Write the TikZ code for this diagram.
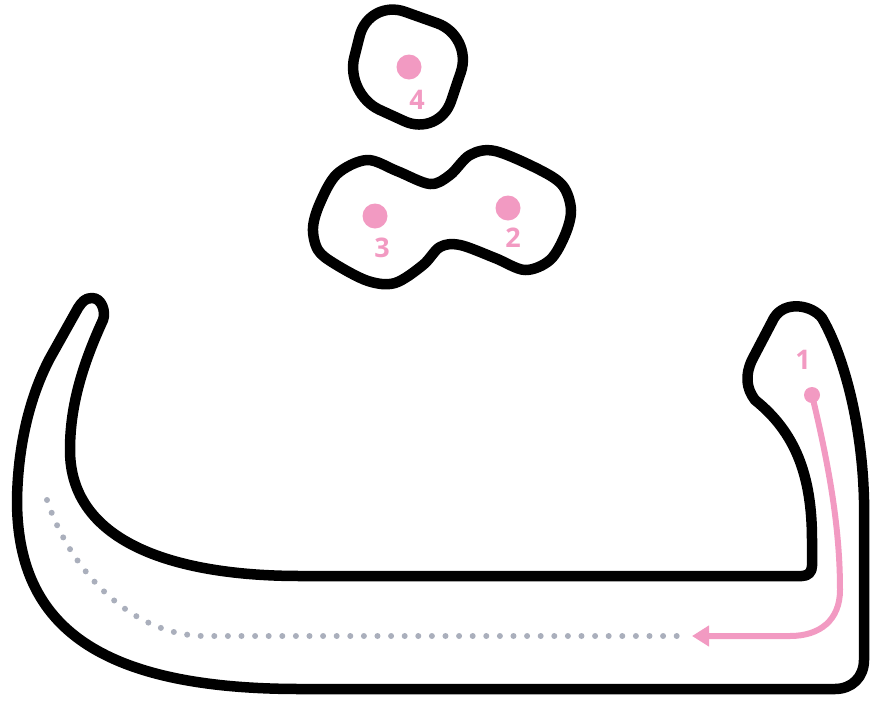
\documentclass[tikz,border=0pt]{standalone}
\usepackage{fontspec}
\setmainfont{Open Sans}
\usetikzlibrary{arrows.meta}
\definecolor{guide}{RGB}{242,154,194}
\definecolor{trail}{RGB}{170,175,188}

\begin{document}
\begin{tikzpicture}[x = 1pt, y = -1pt,
	outline/.style = {line width = 10.5pt, line join = round, line cap = round},
	stroke/.style = {guide, line width = 6pt, line cap = round},
	trace/.style = {trail, line width = 6pt, line cap = round, dash pattern = on 0pt off 13.6pt},
	spot/.style = {fill = guide},
	num/.style = {text = guide, inner sep = 0pt, font = \fontsize{27}{27}\selectfont\bfseries}]
	\useasboundingbox (0,0) rectangle (871,705);
	% body of the letter
	\draw [outline] (103,320)
		.. controls (106,312) and (102,298) .. (92,298)
		.. controls (85,298) and (82,302) .. (78,308)
		-- (50,358)
		.. controls (32,392) and (18,440) .. (17,500)
		.. controls (17,620) and (90,689) .. (300,689)
		-- (835,689)
		.. controls (852,689) and (864,677) .. (864,660)
		-- (864,500)
		.. controls (862,420) and (842,352) .. (822,318)
		.. controls (812,305) and (785,300) .. (774,318)
		-- (752,360)
		.. controls (745,375) and (746,388) .. (755,400)
		.. controls (795,432) and (812,475) .. (812,540)
		-- (812,566)
		.. controls (812,572) and (808,576) .. (802,576)
		-- (300,576)
		.. controls (180,576) and (70,545) .. (70,450)
		.. controls (70,410) and (80,370) .. (103,320) -- cycle;
	% the two dots
	\draw [outline] plot [smooth cycle, tension = 0.55] coordinates {
		(313,228) (320,203) (337,174) (367,160) (397,171) (430,184) (450,175)
		(470,155) (495,151) (540,170) (563,186) (571,210) (565,235) (550,260)
		(525,270) (495,258) (460,245) (440,247) (423,265) (395,283) (368,281)
		(335,264) (318,250)};
	% the top dot
	\draw [outline, rounded corners = 38pt] (369,-1) -- (473,36) -- (439,137) -- (345,94) -- cycle;
	% stroke guides
	\coordinate (start1) at (812,395);
	\coordinate (end1) at (692,636);
	\coordinate (trail0) at (47,500);
	\coordinate (trail1) at (683,636);
	\draw [trace] (trail0) .. controls (72,575) and (135,636) .. (205,636) -- (trail1);
	\draw [stroke, -{Triangle[length = 17pt, width = 20pt]}] (start1)
		.. controls (830,470) and (840,530) .. (840,590)
		.. controls (840,620) and (820,636) .. (790,636) -- (end1);
	\fill [spot] (start1) circle (8pt);
	\fill [spot] (508,208) circle (12.5pt);
	\fill [spot] (375,216) circle (12.5pt);
	\fill [spot] (409,67) circle (12.5pt);
	\node [num] (n1) at (803,360) {1};
	\node [num] (n2) at (513,238) {2};
	\node [num] (n3) at (382,248) {3};
	\node [num] (n4) at (417,100) {4};
\end{tikzpicture}
\end{document}
